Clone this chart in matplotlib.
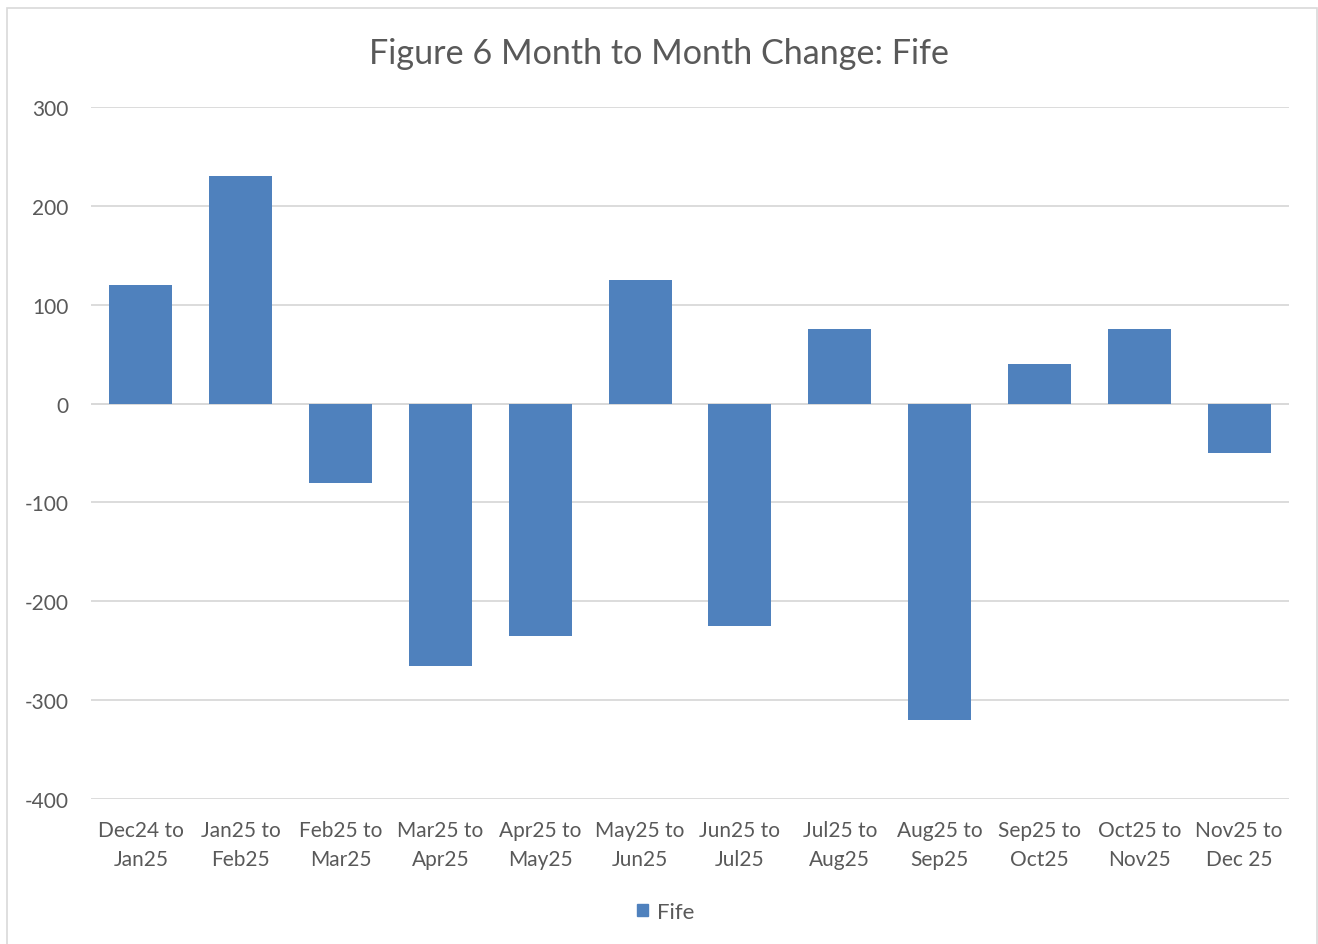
import matplotlib
matplotlib.use("Agg")
import matplotlib.pyplot as plt
from matplotlib.patches import Rectangle, Patch

categories = ["Dec24 to\nJan25", "Jan25 to\nFeb25", "Feb25 to\nMar25", "Mar25 to\nApr25",
              "Apr25 to\nMay25", "May25 to\nJun25", "Jun25 to\nJul25", "Jul25 to\nAug25",
              "Aug25 to\nSep25", "Sep25 to\nOct25", "Oct25 to\nNov25", "Nov25 to\nDec 25"]
fife = [120, 230, -80, -265, -235, 125, -225, 75, -320, 40, 75, -50]
yticks = [-400, -300, -200, -100, 0, 100, 200, 300]

plt.rcParams['font.family'] = ['Lato', 'DejaVu Sans']
txt = '#595959'
bar_color = '#4F81BD'
grid = '#D9D9D9'

fig = plt.figure(figsize=(13.18, 9.45), dpi=100)
fig.patches.append(Rectangle((7/1318, -0.01), 1310/1318, 1 - 9/945 + 0.01, transform=fig.transFigure,
                             fill=False, edgecolor='#D9D9D9', linewidth=1.2))
ax = fig.add_axes([91/1318, 1-800/945, 1198/1318, 692/945])

x = list(range(len(categories)))
ax.bar(x, fife, width=0.63, color=bar_color, zorder=3)
ax.set_xlim(-0.5, len(categories)-0.5)
ax.set_ylim(-400, 300)
ax.set_yticks(yticks)
ax.set_yticklabels([str(v) for v in yticks], fontsize=15, color=txt)
ax.set_xticks(x)
ax.set_xticklabels(categories, fontsize=15, color=txt, linespacing=1.6)
ax.tick_params(axis='both', length=0)
ax.tick_params(axis='y', pad=16)
ax.tick_params(axis='x', pad=15)
ax.yaxis.grid(True, color=grid, linewidth=1.3, zorder=0)
ax.axhline(0, color=grid, linewidth=1.3, zorder=1)
for s in ax.spines.values():
    s.set_visible(False)

fig.text(0.5, 1-54/945, "Figure 6 Month to Month Change: Fife", ha='center', va='center',
         fontsize=24.6, color=txt)
fig.legend(handles=[Patch(color=bar_color, label='Fife')], loc='center',
           bbox_to_anchor=(0.5 + 7/1318, 1-913/945), frameon=False, fontsize=16,
           handlelength=0.5, handleheight=0.5, handletextpad=0.4, labelcolor=txt)

fig.savefig("out.png", dpi=100)
